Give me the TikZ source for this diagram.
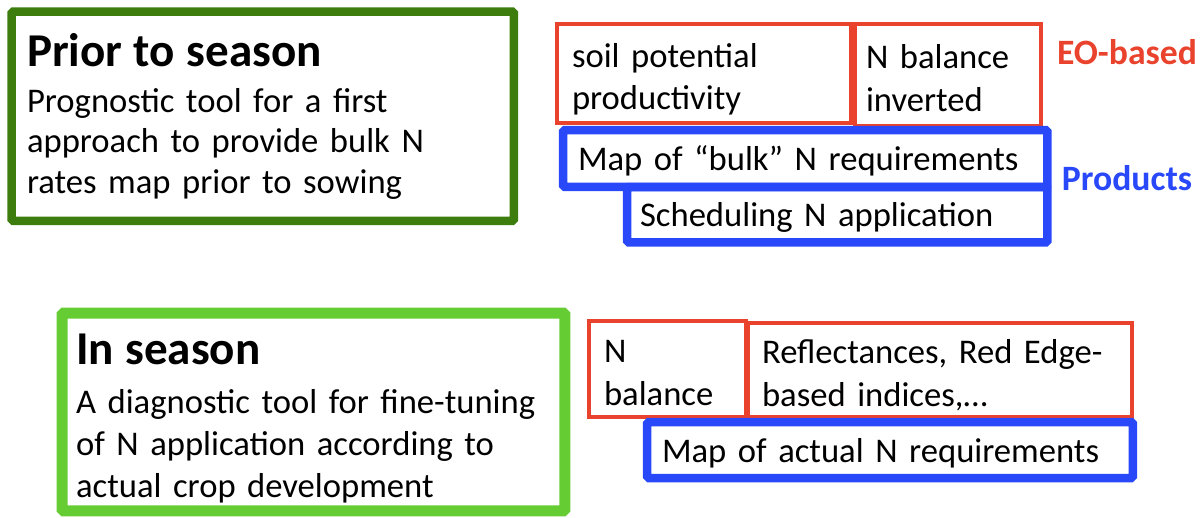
\documentclass[tikz,border=0pt]{standalone}
\usepackage{fontspec}
\setmainfont[WordSpace=0.8]{Carlito}
\definecolor{darkgreen}{RGB}{60,125,14}
\definecolor{lightgreen}{RGB}{102,204,51}
\definecolor{eored}{RGB}{234,67,45}
\definecolor{prodblue}{RGB}{40,72,250}
\newcommand{\boxtitle}[1]{{\fontsize{26.8}{30}\selectfont\bfseries #1}}
\newcommand{\eostrut}{\rule[-0.15\baselineskip]{0pt}{\baselineskip}}
\newcommand{\prodstrut}{\rule[-0.22\baselineskip]{0pt}{\baselineskip}}
\begin{document}
\begin{tikzpicture}[x=0.02cm, y=-0.02cm,
    season/.style={draw, line width=0.17cm, rounded corners=1pt, inner sep=0pt, align=left, font=\fontsize{19.7}{23.2}\selectfont},
    eobox/.style={draw=eored, line width=0.08cm, inner sep=0pt, align=left, font=\fontsize{19.7}{24.4}\selectfont,
        execute at begin node=\eostrut, execute at end node=\eostrut},
    prodbox/.style={draw=prodblue, line width=0.17cm, rounded corners=1pt, inner sep=0pt, align=left, font=\fontsize{19.7}{24.4}\selectfont,
        execute at begin node=\prodstrut, execute at end node=\prodstrut},
    tag/.style={inner sep=0pt, font=\fontsize{20.3}{24}\selectfont\bfseries}]
    \useasboundingbox (0,0) rectangle (1202,517);
    % prior to season
    \node[season, draw=darkgreen, minimum width=10.05cm, minimum height=4.19cm, text width=9.43cm] (prior) at (262.75,116.25)
        {\boxtitle{Prior to season}\\[3pt] Prognostic tool for a first\\ approach to provide bulk N\\ rates map prior to sowing};
    \node[eobox, minimum width=5.89cm, minimum height=1.97cm, text width=5.27cm] (soil) at (703.75,73.5) {soil potential\\ productivity};
    \node[eobox, minimum width=3.72cm, minimum height=2.03cm, text width=3.28cm] (inv) at (948,75) {N balance\\ inverted};
    \node[prodbox, minimum width=9.69cm, minimum height=1.14cm, text width=9.09cm] (bulk) at (805.25,158.5) {Map of “bulk” N requirements};
    \node[prodbox, minimum width=8.41cm, minimum height=1.11cm, text width=7.89cm] (sched) at (837.25,214.75) {Scheduling N application};
    \node[tag, text=eored] (eo) at (1127,52) {EO-based};
    \node[tag, text=prodblue] (prod) at (1127,178) {Products};
    % in season
    \node[season, draw=lightgreen, line width=0.22cm, font=\fontsize{19.7}{24}\selectfont, minimum width=10.06cm, minimum height=3.96cm, text width=9.5cm] (inseason) at (313.5,412)
        {\boxtitle{\rule{0pt}{25pt}In season}\\[4pt] A diagnostic tool for fine-tuning\\ of N application according to\\ actual crop development};
    \node[eobox, minimum width=3.14cm, minimum height=1.93cm, text width=2.54cm] (bal) at (667.5,369) {N\\ balance};
    \node[eobox, minimum width=7.68cm, minimum height=1.88cm, text width=7.12cm] (refl) at (940,370) {Reflectances, Red Edge-\\ based indices,…};
    \node[prodbox, minimum width=9.72cm, minimum height=1.12cm, text width=9.12cm] (actual) at (890,450) {Map of actual N requirements};
\end{tikzpicture}
\end{document}
